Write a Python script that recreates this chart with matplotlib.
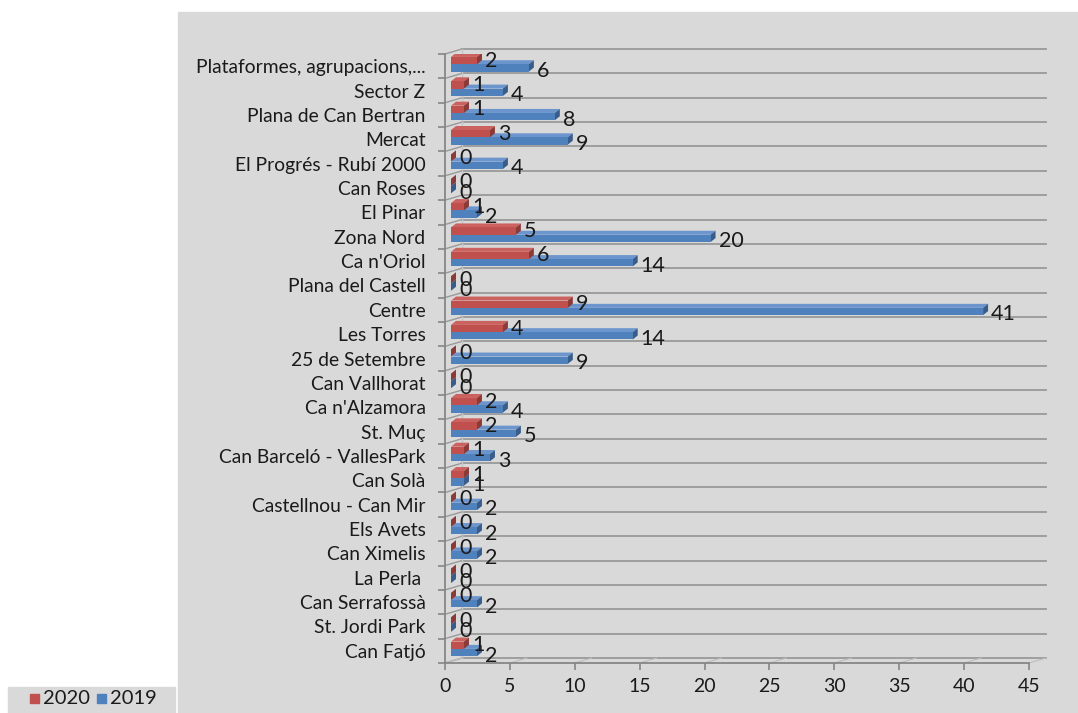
import matplotlib.pyplot as plt
from matplotlib.patches import Rectangle, Polygon

plt.rcParams['font.family'] = ['Lato', 'DejaVu Sans']

# categories listed top to bottom as in the chart
districts = ['Plataformes, agrupacions,...', 'Sector Z', 'Plana de Can Bertran', 'Mercat',
             'El Progrés - Rubí 2000', 'Can Roses', 'El Pinar', 'Zona Nord', "Ca n'Oriol",
             'Plana del Castell', 'Centre', 'Les Torres', '25 de Setembre', 'Can Vallhorat',
             "Ca n'Alzamora", 'St. Muç', 'Can Barceló - VallesPark', 'Can Solà',
             'Castellnou - Can Mir', 'Els Avets', 'Can Ximelis', 'La Perla ', 'Can Serrafossà',
             'St. Jordi Park', 'Can Fatjó']
v2020 = [2, 1, 1, 3, 0, 0, 1, 5, 6, 0, 9, 4, 0, 0, 2, 2, 1, 1, 0, 0, 0, 0, 0, 0, 1]
v2019 = [6, 4, 8, 9, 4, 0, 2, 20, 14, 0, 41, 14, 9, 0, 4, 5, 3, 1, 2, 2, 2, 0, 2, 0, 2]
x_ticks = [0, 5, 10, 15, 20, 25, 30, 35, 40, 45]

names = districts[::-1]
a20 = v2020[::-1]
a19 = v2019[::-1]
n = len(names)

W, H = 1078, 713
fig = plt.figure(figsize=(W / 100, H / 100), dpi=100)
fig.patches.append(Rectangle((178 / W, 0), 1 - 178 / W, 1 - 12 / H, transform=fig.transFigure,
                             color='#d9d9d9', zorder=-10))
fig.patches.append(Rectangle((8 / W, 0), 167 / W, 26 / H, transform=fig.transFigure,
                             color='#d9d9d9', zorder=-10))

ax_w, ax_h = 584, 609
ax = fig.add_axes([445 / W, 50 / H, ax_w / W, ax_h / H])
ax.set_facecolor('none')
ax.set_xlim(0, 45)
ax.set_ylim(-0.5, n - 0.5)
kx = 45 / ax_w      # data units per pixel
ky = n / ax_h

grid_c = '#999999'
depth_x, depth_y = 17 * kx, 5 * ky
bounds = [i - 0.5 for i in range(n + 1)]
for b in bounds:
    ax.plot([depth_x, 45 + depth_x], [b + depth_y, b + depth_y], color=grid_c, lw=1.3,
            clip_on=False, zorder=1)
    ax.plot([0, depth_x], [b, b + depth_y], color=grid_c, lw=1.0, clip_on=False, zorder=1)
ax.plot([depth_x, depth_x], [-0.5 + depth_y, n - 0.5 + depth_y], color='#c4c4c4', lw=1.0,
        clip_on=False, zorder=1)
for t in x_ticks:
    ax.plot([t, t + depth_x], [-0.5, -0.5 + depth_y], color='#bdbdbd', lw=0.8,
            clip_on=False, zorder=1)

# 3d-looking bars
h = 0.3
x0 = 6 * kx
bx, by = 5 * kx, 4 * ky
series = [(a19, -0.07, '#4f81bd', '#6b95cc', '#385d8a', -3),
          (a20, 0.23, '#c0504d', '#cc625f', '#8c3a38', 0)]
for vals, off, front, top, side, lab_dy in series:
    for i, v in enumerate(vals):
        y0 = i + off - h / 2
        y1 = i + off + h / 2
        ax.add_patch(Polygon([(x0, y1), (x0 + v, y1), (x0 + v + bx, y1 + by), (x0 + bx, y1 + by)],
                             closed=True, facecolor=top, edgecolor='none', zorder=3))
        ax.add_patch(Polygon([(x0 + v, y0), (x0 + v, y1), (x0 + v + bx, y1 + by), (x0 + v + bx, y0 + by)],
                             closed=True, facecolor=side, edgecolor='none', zorder=3))
for vals, off, front, top, side, lab_dy in series:
    ax.barh([i + off for i in range(n)], vals, height=h, left=x0, color=front, zorder=4)
    for i, v in enumerate(vals):
        ax.text(v + 14 * kx, i + off + lab_dy * ky, str(v), ha='left', va='center',
                fontsize=15.5, color='#1a1a1a', zorder=6)

for s in ['top', 'right']:
    ax.spines[s].set_visible(False)
for s in ['left', 'bottom']:
    ax.spines[s].set_color('#868686')
    ax.spines[s].set_linewidth(1.3)

ax.set_yticks(range(n))
ax.set_yticklabels(names)
ax.set_yticks(bounds, minor=True)
ax.tick_params(axis='y', which='major', length=0, pad=14, labelsize=13.9, labelcolor='#1a1a1a')
ax.tick_params(axis='y', which='minor', length=5, width=1.2, color='#868686')
ax.set_xticks(x_ticks)
ax.tick_params(axis='x', length=5, width=1.2, color='#868686', pad=6, labelsize=14,
               labelcolor='#1a1a1a')

# legend
fig.patches.append(Rectangle((30 / W, 10 / H), 9 / W, 9 / H, transform=fig.transFigure,
                             color='#c0504d'))
fig.text(43 / W, 14 / H, '2020', fontsize=14.5, va='center', ha='left', color='#1a1a1a')
fig.patches.append(Rectangle((97 / W, 10 / H), 9 / W, 9 / H, transform=fig.transFigure,
                             color='#4f81bd'))
fig.text(110 / W, 14 / H, '2019', fontsize=14.5, va='center', ha='left', color='#1a1a1a')

fig.savefig('out.png', dpi=100, facecolor='white')
